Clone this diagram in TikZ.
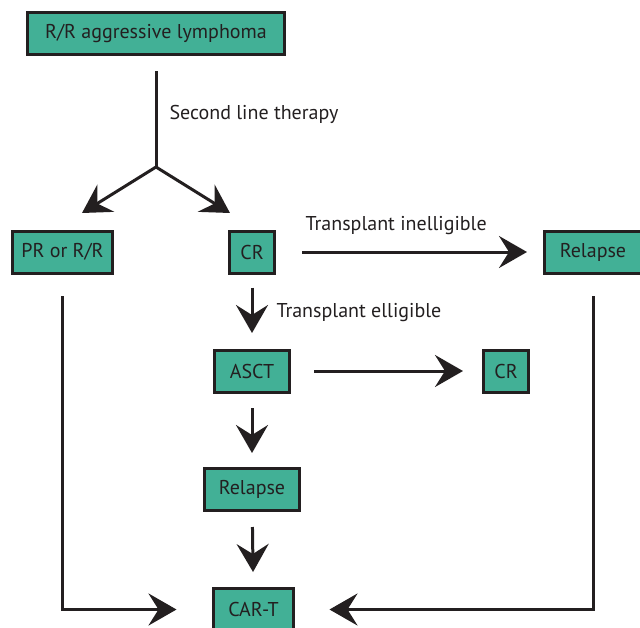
\documentclass[tikz,border=0pt]{standalone}
\usepackage{fontspec}
\setmainfont{PT Sans}
\usetikzlibrary{arrows.meta}
\definecolor{boxfill}{RGB}{66,176,150}
\definecolor{ink}{RGB}{35,31,32}
\begin{document}
\begin{tikzpicture}[x=1pt,y=-1pt,
  box/.style={draw=ink, fill=boxfill, line width=3pt, minimum height=42pt, inner sep=0pt,
    font=\fontsize{20}{22}\selectfont, text=ink},
  plain/.style={draw=ink, line width=3pt},
  conn/.style={plain, -{Stealth[length=28pt,width=32pt,inset=10pt]}},
  lab/.style={inner sep=0pt, font=\fontsize{20}{22}\selectfont, text=ink}]
\useasboundingbox (0,0) rectangle (640,627);
\node[box, minimum width=257pt] (top) at (156,33.5) {R/R aggressive lymphoma};
\node[box, minimum width=100pt] (pr) at (62.5,252) {PR or R/R};
\node[box, minimum width=45pt] (cr1) at (252,252) {CR};
\node[box, minimum width=97pt] (rel1) at (593,252) {Relapse};
\node[box, minimum width=75pt] (asct) at (252,371) {ASCT};
\node[box, minimum width=45pt] (cr2) at (506,371) {CR};
\node[box, minimum width=95pt] (rel2) at (252,489.5) {Relapse};
\node[box, minimum width=80pt] (cart) at (253.5,609.5) {CAR-T};
\coordinate (j) at (156,167);
\coordinate (tl) at (82,213);
\coordinate (tr) at (230,213);
\draw[plain, shorten <=15pt] (top) -- node[lab, pos=0.5, anchor=west, xshift=12pt, yshift=-3pt] {Second line therapy} (j);
\draw[plain, {Stealth[length=28pt,width=32pt,inset=10pt]}-{Stealth[length=28pt,width=32pt,inset=10pt]}] (tl) -- (j) -- (tr);
\draw[conn, shorten <=26pt, shorten >=16pt] (cr1) -- node[lab, pos=0.45, yshift=26pt] {Transplant inelligible} (rel1);
\draw[conn, shorten <=13pt, shorten >=15.5pt] (cr1) -- node[lab, pos=0.5, anchor=west, xshift=23pt, yshift=-1pt] {Transplant elligible} (asct);
\draw[conn, shorten <=23pt, shorten >=19pt] (asct) -- (cr2);
\draw[conn, shorten <=14.5pt, shorten >=14pt] (asct) -- (rel2);
\draw[conn, shorten <=15pt, shorten >=15pt] (rel2) -- (cart);
\draw[conn, shorten <=21.5pt, shorten >=35.5pt] (pr.south) |- (cart.west);
\draw[conn, shorten <=21.5pt, shorten >=34.5pt] (rel1.south) |- (cart.east);
\end{tikzpicture}
\end{document}
